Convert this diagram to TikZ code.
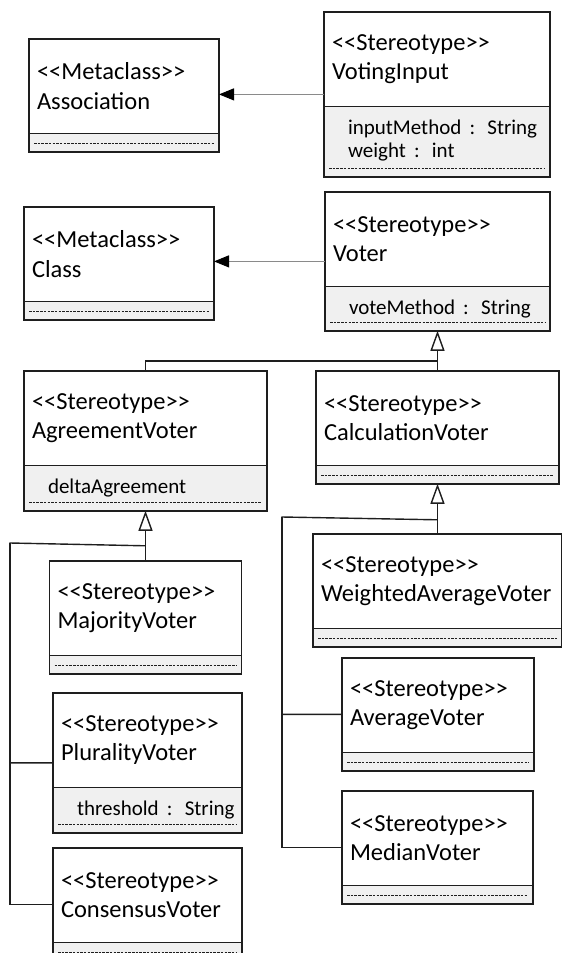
\documentclass[tikz,border=0pt]{standalone}
\usepackage{fontspec}
\newfontfamily\umlfont{Carlito}
\usetikzlibrary{shapes.multipart,arrows.meta}

\definecolor{linec}{HTML}{1E1E1E}
\definecolor{attrc}{HTML}{F0F0F0}
\definecolor{metac}{HTML}{8A8A8A}

\newcommand{\guil}[1]{<<#1>>}
\newcommand{\head}[2]{\parbox[c][93pt][c]{\linewidth}{\guil{#1}\\#2}}
\newcommand{\attr}[2]{\parbox[t][#1][t]{\linewidth}{\fontsize{21}{23.5}\selectfont\hspace*{16pt}\begin{tabular}[t]{@{}l@{}}\rule{0pt}{27pt}#2\end{tabular}}}
\newcommand{\noattr}{\rule{0pt}{17pt}}

\begin{document}
\begin{tikzpicture}[x=1pt, y=-1pt,
    cls/.style={rectangle split, rectangle split parts=2, rectangle split part fill={white,attrc},
      draw=linec, line width=1.4pt, anchor=north west, inner xsep=8pt, inner ysep=0pt,
      outer sep=0pt, align=left, font=\umlfont\fontsize{24.5}{29.5}\selectfont},
    dots/.style={draw=linec, line width=0.7pt, dash pattern=on 2.5pt off 1.2pt},
    link/.style={draw=linec, line width=1.4pt},
    gen/.style={link, -{Triangle[open, length=20pt, width=14pt]}},
    meta/.style={draw=metac, line width=1pt, -{Triangle[length=15pt, width=12pt, color=black]}}]

    \useasboundingbox (0,0) rectangle (562,953);

    % metaclasses and the two top stereotypes
    \node[cls, text width=174pt] (association) at (29,39) {\head{Metaclass}{Association}\nodepart{two}\noattr};
    \node[cls, text width=210pt] (votinginput) at (324,12) {\head{Stereotype}{VotingInput}\nodepart{two}\attr{69pt}{inputMethod : String\\weight : int}};
    \node[cls, text width=174pt] (class) at (24,207) {\head{Metaclass}{Class}\nodepart{two}\noattr};
    \node[cls, text width=209pt] (voter) at (325,192) {\head{Stereotype}{Voter}\nodepart{two}\attr{43pt}{voteMethod : String}};

    % voter kinds
    \node[cls, text width=227pt] (agreementvoter) at (24,371) {\head{Stereotype}{AgreementVoter}\nodepart{two}\attr{44pt}{deltaAgreement}};
    \node[cls, text width=227pt] (calculationvoter) at (316,371) {\head{Stereotype}{CalculationVoter}\nodepart{two}\noattr};

    \node[cls, text width=176pt] (majorityvoter) at (49.5,561) {\head{Stereotype}{MajorityVoter}\nodepart{two}\noattr};
    \node[cls, text width=173pt] (pluralityvoter) at (53,693) {\head{Stereotype}{PluralityVoter}\nodepart{two}\attr{44pt}{threshold : String}};
    \node[cls, text width=173pt] (consensusvoter) at (53,848) {\head{Stereotype}{ConsensusVoter}\nodepart{two}\noattr};

    \node[cls, text width=233pt] (weightedaveragevoter) at (313,534) {\head{Stereotype}{WeightedAverageVoter}\nodepart{two}\noattr};
    \node[cls, text width=176pt] (averagevoter) at (342,658) {\head{Stereotype}{AverageVoter}\nodepart{two}\noattr};
    \node[cls, text width=175pt] (medianvoter) at (342,791) {\head{Stereotype}{MedianVoter}\nodepart{two}\noattr};

    \foreach \c in {association,votinginput,class,voter,agreementvoter,calculationvoter,majorityvoter,pluralityvoter,consensusvoter,weightedaveragevoter,averagevoter,medianvoter}
        \draw[dots] ([xshift=5pt,yshift=8pt]\c.south west) -- ([xshift=-5pt,yshift=8pt]\c.south east);

    % extensions
    \draw[meta] (votinginput.west) -- (association.east |- votinginput.west);
    \draw[meta] (voter.west) -- (class.east |- voter.west);

    % generalizations
    \coordinate (vj) at ([yshift=-30pt]voter.south);
    \draw[gen] (agreementvoter.north) |- (vj) -- (voter.south);
    \draw[link] (calculationvoter.north) -- (vj);

    \coordinate (aj) at ([yshift=-35pt]agreementvoter.south);
    \coordinate (abus) at (10,543);
    \draw[gen] (majorityvoter.north) -- (agreementvoter.south);
    \draw[link] (aj) -- (abus) |- (pluralityvoter.west);
    \draw[link] (abus) |- (consensusvoter.west);

    \coordinate (cj) at ([yshift=-36pt]calculationvoter.south);
    \coordinate (cbus) at (282,517);
    \draw[gen] (weightedaveragevoter.north) -- (calculationvoter.south);
    \draw[link] (cj) -- (cbus) |- (averagevoter.west);
    \draw[link] (cbus) |- (medianvoter.west);

\end{tikzpicture}
\end{document}
